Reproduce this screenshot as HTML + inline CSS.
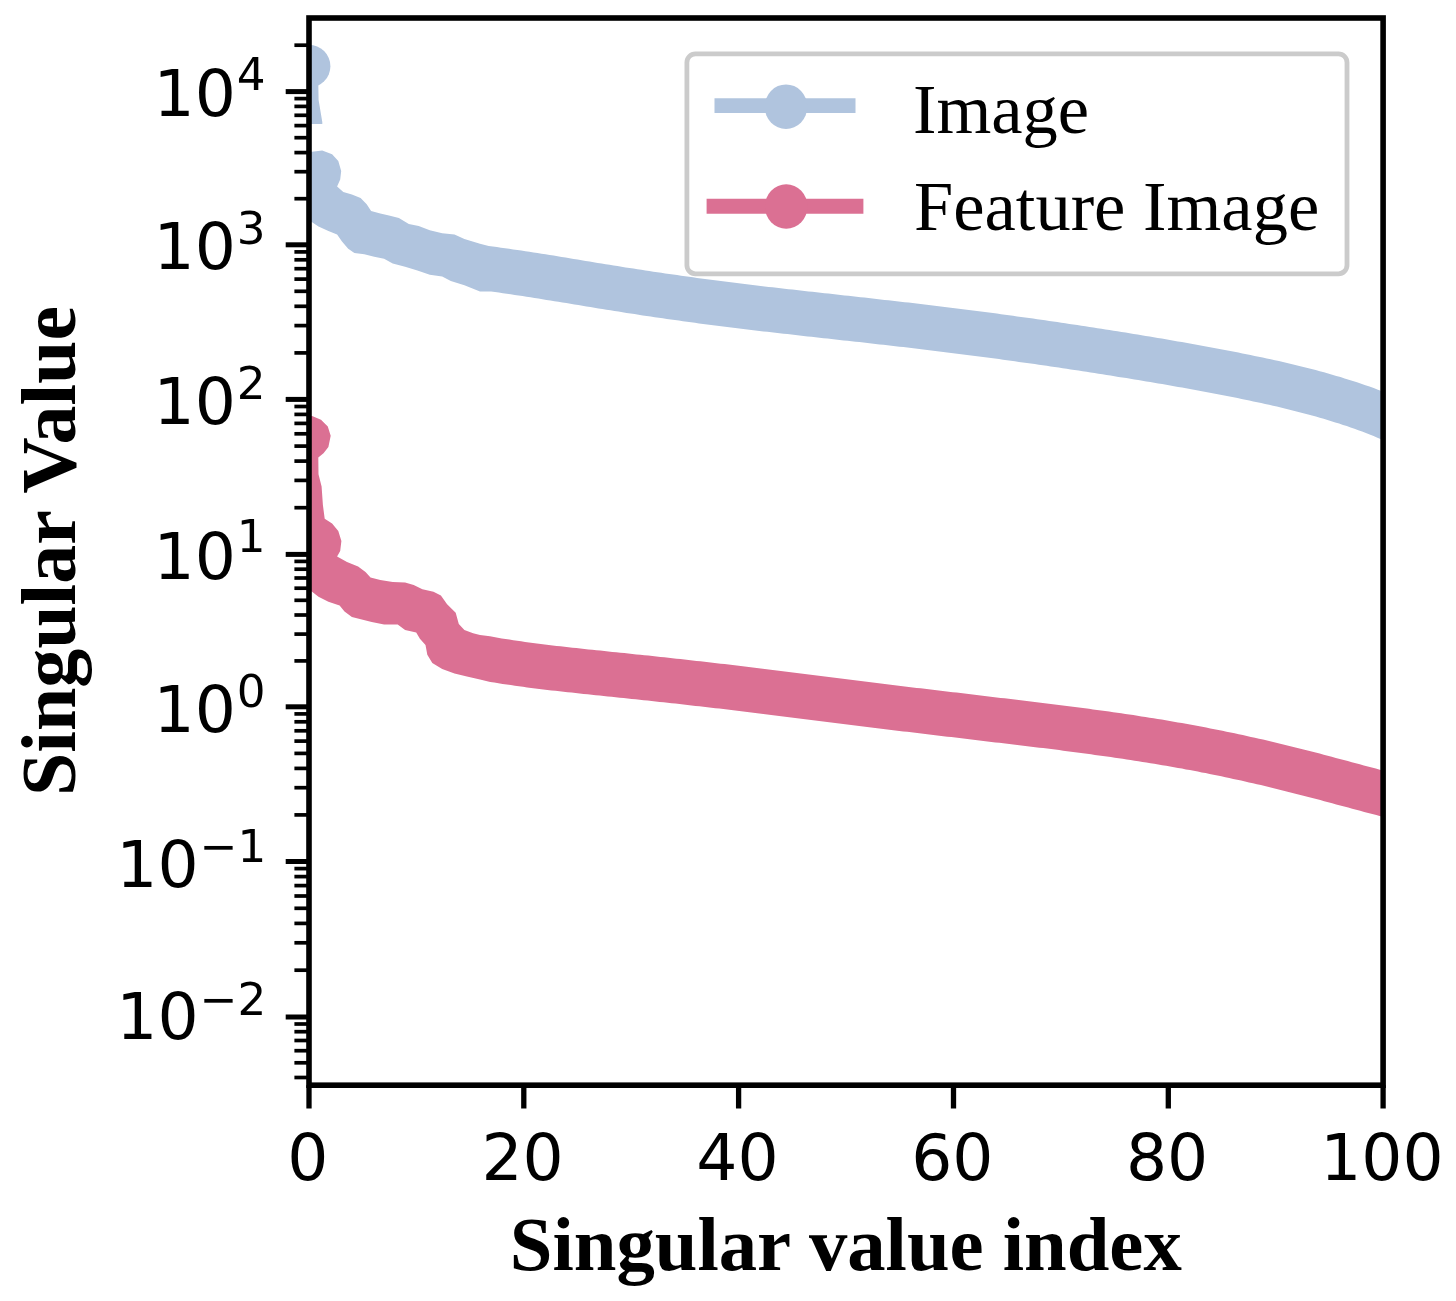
<!DOCTYPE html>
<html lang="en"><head><meta charset="utf-8"><title>Singular value spectrum</title>
<style>html,body{margin:0;padding:0;background:#fff;}body{width:1456px;height:1301px;overflow:hidden;}svg{display:block;filter:blur(0.7px);}</style>
</head><body>
<svg width="1456" height="1301" viewBox="0 0 1456 1301">
<rect width="1456" height="1301" fill="#fff"/>
<defs><clipPath id="ax"><rect x="309.0" y="18.0" width="1074.1" height="1067.2"/></clipPath></defs>
<g clip-path="url(#ax)">
<circle cx="309.0" cy="66.2" r="21.4" fill="#b0c4de"/>
<polygon points="309.0,80 318.3,84 318.6,100 322.3,122 322.3,124 309.0,124" fill="#b0c4de"/>
<polygon points="309.0,151.7 312.1,151.7 322.2,150.6 332.1,154.2 338.3,161.0 341.2,170.9 340.2,179.6 337.1,186.4 343.3,191.9 351.9,194.4 360.6,198.1 366.7,204.3 371.1,211.1 380.3,213.5 389.0,215.4 398.9,217.9 408.8,224.1 418.7,225.9 429.8,230.2 442.2,233.3 454.5,234.6 464.4,238.9 480.0,243.8 488.7,246.1 492.8,246.6 496.9,247.1 501.0,247.7 505.1,248.2 509.1,248.8 513.2,249.4 517.3,250.0 521.3,250.6 525.4,251.2 529.4,251.8 533.5,252.4 537.5,253.1 541.5,253.7 545.6,254.3 549.6,255.0 553.6,255.6 557.6,256.3 561.6,257.0 565.6,257.6 569.6,258.3 573.6,258.9 577.6,259.6 581.6,260.3 585.6,260.9 589.6,261.6 593.6,262.2 597.6,262.9 601.6,263.5 605.6,264.2 609.6,264.8 613.6,265.5 617.5,266.1 621.5,266.7 625.5,267.4 629.5,268.0 633.4,268.6 637.4,269.2 641.4,269.8 645.4,270.5 649.3,271.1 653.3,271.7 657.3,272.2 661.3,272.8 665.2,273.4 669.2,274.0 673.2,274.6 677.1,275.1 681.1,275.7 685.1,276.2 689.1,276.8 693.0,277.3 697.0,277.9 701.0,278.4 705.0,278.9 708.9,279.5 712.9,280.0 716.9,280.5 720.8,281.0 724.8,281.5 728.8,282.0 732.8,282.5 736.8,283.0 740.7,283.5 744.7,284.0 748.7,284.5 752.7,285.0 756.7,285.4 760.6,285.9 764.6,286.4 768.6,286.9 772.6,287.3 776.6,287.8 780.6,288.2 784.5,288.7 788.5,289.2 792.5,289.6 796.5,290.1 800.5,290.5 804.5,291.0 808.5,291.4 812.5,291.8 816.5,292.3 820.5,292.7 824.5,293.2 828.5,293.6 832.5,294.1 836.5,294.5 840.5,295.0 844.5,295.4 848.5,295.8 852.5,296.3 856.5,296.7 860.5,297.2 864.5,297.6 868.5,298.1 872.5,298.5 876.5,299.0 880.5,299.4 884.5,299.9 888.5,300.3 892.5,300.8 896.6,301.2 900.6,301.7 904.6,302.2 908.6,302.6 912.6,303.1 916.6,303.6 920.6,304.1 924.6,304.5 928.7,305.0 932.7,305.5 936.7,306.0 940.7,306.5 944.7,307.0 948.7,307.5 952.8,308.0 956.8,308.5 960.8,309.0 964.8,309.5 968.8,310.0 972.9,310.5 976.9,311.0 980.9,311.5 984.9,312.1 988.9,312.6 992.9,313.1 997.0,313.6 1001.0,314.2 1005.0,314.7 1009.0,315.3 1013.0,315.8 1017.1,316.4 1021.1,316.9 1025.1,317.5 1029.1,318.1 1033.1,318.6 1037.2,319.2 1041.2,319.8 1045.2,320.3 1049.2,320.9 1053.2,321.5 1057.3,322.1 1061.3,322.7 1065.3,323.3 1069.3,323.9 1073.3,324.5 1077.3,325.1 1081.4,325.7 1085.4,326.3 1089.4,326.9 1093.4,327.6 1097.4,328.2 1101.5,328.8 1105.5,329.4 1109.5,330.1 1113.5,330.7 1117.5,331.3 1121.5,332.0 1125.6,332.6 1129.6,333.3 1133.6,333.9 1137.6,334.6 1141.6,335.2 1145.7,335.9 1149.7,336.6 1153.7,337.3 1157.7,337.9 1161.8,338.6 1165.8,339.3 1169.8,340.0 1173.8,340.7 1177.8,341.4 1181.9,342.1 1185.9,342.8 1189.9,343.5 1194.0,344.2 1198.0,345.0 1202.0,345.7 1206.0,346.4 1210.1,347.2 1214.1,347.9 1218.1,348.7 1222.2,349.4 1226.2,350.2 1230.3,351.0 1234.3,351.8 1238.4,352.6 1242.4,353.4 1246.5,354.2 1250.5,355.0 1254.6,355.9 1258.6,356.7 1262.7,357.6 1266.7,358.4 1270.8,359.3 1274.9,360.2 1278.9,361.1 1283.0,362.1 1287.1,363.0 1291.2,364.0 1295.3,364.9 1299.3,365.9 1303.4,367.0 1307.5,368.0 1311.6,369.0 1315.7,370.1 1319.8,371.2 1324.0,372.3 1328.1,373.5 1332.2,374.7 1336.3,375.9 1340.5,377.1 1344.6,378.4 1348.7,379.7 1352.9,381.0 1357.0,382.3 1361.2,383.7 1365.4,385.2 1369.5,386.6 1373.7,388.1 1377.9,389.7 1382.1,391.3 1386.3,392.9 1390.4,394.6 1394.6,396.3 1398.9,398.1 1403.1,400.0 1407.3,401.8 1411.5,403.8 1415.7,405.8 1420.0,407.9 1424.2,410.0 1428.4,412.2 1432.6,414.4 1411.4,453.9 1407.6,451.8 1403.8,449.9 1400.0,448.0 1396.3,446.2 1392.5,444.4 1388.7,442.6 1384.9,440.9 1381.1,439.3 1377.4,437.7 1373.6,436.1 1369.7,434.6 1365.9,433.1 1362.1,431.6 1358.3,430.2 1354.5,428.8 1350.6,427.5 1346.8,426.1 1343.0,424.9 1339.1,423.6 1335.3,422.4 1331.4,421.2 1327.5,420.0 1323.7,418.8 1319.8,417.7 1315.9,416.6 1312.0,415.5 1308.2,414.5 1304.3,413.4 1300.4,412.4 1296.5,411.4 1292.6,410.4 1288.7,409.4 1284.7,408.5 1280.8,407.6 1276.9,406.6 1273.0,405.7 1269.1,404.8 1265.1,404.0 1261.2,403.1 1257.3,402.2 1253.3,401.4 1249.4,400.5 1245.4,399.7 1241.5,398.9 1237.5,398.1 1233.6,397.3 1229.6,396.5 1225.7,395.7 1221.7,395.0 1217.8,394.2 1213.8,393.4 1209.9,392.7 1205.9,392.0 1201.9,391.2 1198.0,390.5 1194.0,389.8 1190.0,389.0 1186.0,388.3 1182.1,387.6 1178.1,386.9 1174.1,386.2 1170.2,385.5 1166.2,384.8 1162.2,384.1 1158.2,383.5 1154.2,382.8 1150.3,382.1 1146.3,381.4 1142.3,380.8 1138.3,380.1 1134.4,379.5 1130.4,378.8 1126.4,378.1 1122.4,377.5 1118.4,376.9 1114.5,376.2 1110.5,375.6 1106.5,374.9 1102.5,374.3 1098.5,373.7 1094.5,373.1 1090.6,372.4 1086.6,371.8 1082.6,371.2 1078.6,370.6 1074.6,370.0 1070.7,369.4 1066.7,368.8 1062.7,368.2 1058.7,367.6 1054.7,367.0 1050.7,366.4 1046.8,365.8 1042.8,365.3 1038.8,364.7 1034.8,364.1 1030.8,363.5 1026.9,363.0 1022.9,362.4 1018.9,361.9 1014.9,361.3 1010.9,360.8 1007.0,360.2 1003.0,359.7 999.0,359.1 995.0,358.6 991.0,358.1 987.1,357.5 983.1,357.0 979.1,356.5 975.1,356.0 971.1,355.4 967.1,354.9 963.2,354.4 959.2,353.9 955.2,353.4 951.2,352.9 947.2,352.4 943.3,351.9 939.3,351.4 935.3,350.9 931.3,350.5 927.3,350.0 923.3,349.5 919.4,349.0 915.4,348.5 911.4,348.1 907.4,347.6 903.4,347.1 899.4,346.7 895.4,346.2 891.4,345.8 887.5,345.3 883.5,344.8 879.5,344.4 875.5,343.9 871.5,343.5 867.5,343.0 863.5,342.6 859.5,342.1 855.5,341.7 851.5,341.3 847.5,340.8 843.5,340.4 839.5,339.9 835.5,339.5 831.5,339.0 827.5,338.6 823.5,338.2 819.5,337.7 815.5,337.3 811.5,336.8 807.5,336.4 803.5,335.9 799.5,335.5 795.5,335.0 791.5,334.6 787.5,334.1 783.5,333.7 779.5,333.2 775.4,332.7 771.4,332.3 767.4,331.8 763.4,331.4 759.4,330.9 755.4,330.4 751.3,329.9 747.3,329.4 743.3,329.0 739.3,328.5 735.3,328.0 731.2,327.5 727.2,327.0 723.2,326.5 719.2,326.0 715.2,325.5 711.1,324.9 707.1,324.4 703.1,323.9 699.0,323.4 695.0,322.8 691.0,322.3 687.0,321.7 682.9,321.2 678.9,320.6 674.9,320.1 670.9,319.5 666.8,318.9 662.8,318.3 658.8,317.7 654.7,317.2 650.7,316.6 646.7,316.0 642.7,315.4 638.6,314.7 634.6,314.1 630.6,313.5 626.6,312.9 622.5,312.3 618.5,311.6 614.5,311.0 610.5,310.3 606.4,309.7 602.4,309.1 598.4,308.4 594.4,307.8 590.4,307.1 586.4,306.4 582.4,305.8 578.4,305.1 574.4,304.5 570.4,303.8 566.4,303.1 562.4,302.5 558.4,301.8 554.4,301.2 550.4,300.5 546.4,299.9 542.4,299.2 538.4,298.6 534.5,297.9 530.5,297.3 526.5,296.7 522.6,296.1 518.6,295.5 514.7,294.9 510.7,294.3 506.8,293.7 502.9,293.2 498.9,292.6 495.0,292.1 491.1,291.6 480.0,291.4 464.4,285.2 450.8,280.9 442.2,276.6 429.8,274.7 417.4,270.4 405.1,266.7 392.7,263.6 384.1,258.7 374.2,256.8 364.3,254.3 354.4,253.1 348.2,248.8 342.0,241.4 337.1,234.6 328.4,230.9 318.5,226.5 312.1,222.2 309.2,221.0" fill="#b0c4de"/>
<polygon points="309.0,416.1 312.1,416.1 321.0,419.8 327.8,426.6 330.7,435.8 328.4,447.0 323.5,453.2 318.3,457.5 318.5,474.2 321.6,486.5 322.9,505.1 324.7,518.7 332.1,523.6 338.3,531.0 341.4,540.9 340.2,551.0 337.1,556.6 347.0,562.1 358.1,566.5 365.5,572.0 370.5,577.6 380.3,580.1 392.7,581.9 405.1,582.5 413.7,585.0 422.4,589.3 433.5,591.8 440.9,595.5 447.1,604.2 455.7,612.8 458.8,623.9 464.4,630.1 473.1,633.2 480.0,635.1 490.0,636.3 493.9,637.0 497.8,637.7 501.7,638.4 505.5,639.0 509.4,639.6 513.3,640.2 517.2,640.8 521.1,641.3 525.1,641.9 529.0,642.4 532.9,643.0 536.8,643.5 540.8,644.0 544.7,644.5 548.7,644.9 552.6,645.4 556.6,645.9 560.5,646.3 564.5,646.8 568.5,647.2 572.4,647.7 576.4,648.1 580.4,648.5 584.4,648.9 588.4,649.4 592.3,649.8 596.3,650.2 600.3,650.6 604.3,651.0 608.3,651.5 612.3,651.9 616.3,652.3 620.3,652.7 624.3,653.1 628.3,653.5 632.3,653.9 636.3,654.4 640.3,654.8 644.3,655.2 648.4,655.6 652.4,656.1 656.4,656.5 660.4,656.9 664.4,657.3 668.4,657.8 672.4,658.2 676.4,658.7 680.5,659.1 684.5,659.5 688.5,660.0 692.5,660.4 696.5,660.9 700.5,661.3 704.5,661.8 708.6,662.3 712.6,662.7 716.6,663.2 720.6,663.7 724.6,664.1 728.6,664.6 732.6,665.1 736.7,665.6 740.7,666.0 744.7,666.5 748.7,667.0 752.7,667.5 756.7,668.0 760.7,668.5 764.7,669.0 768.7,669.5 772.7,669.9 776.8,670.4 780.8,670.9 784.8,671.4 788.8,671.9 792.8,672.4 796.8,672.9 800.8,673.4 804.8,673.9 808.8,674.4 812.8,674.9 816.8,675.4 820.8,676.0 824.8,676.5 828.8,677.0 832.8,677.5 836.8,678.0 840.8,678.5 844.8,679.0 848.8,679.5 852.8,680.0 856.8,680.5 860.8,681.0 864.8,681.5 868.8,682.0 872.8,682.5 876.8,683.0 880.8,683.5 884.7,683.9 888.7,684.4 892.7,684.9 896.7,685.4 900.7,685.9 904.7,686.4 908.7,686.9 912.7,687.4 916.7,687.9 920.7,688.3 924.7,688.8 928.7,689.3 932.7,689.8 936.7,690.3 940.7,690.7 944.7,691.2 948.7,691.7 952.7,692.2 956.6,692.6 960.6,693.1 964.6,693.6 968.6,694.1 972.6,694.5 976.6,695.0 980.6,695.5 984.6,696.0 988.6,696.4 992.6,696.9 996.6,697.4 1000.6,697.9 1004.6,698.3 1008.7,698.8 1012.7,699.3 1016.7,699.8 1020.7,700.3 1024.7,700.7 1028.7,701.2 1032.7,701.7 1036.7,702.2 1040.7,702.7 1044.7,703.2 1048.8,703.7 1052.8,704.2 1056.8,704.7 1060.8,705.2 1064.8,705.7 1068.8,706.2 1072.9,706.7 1076.9,707.3 1080.9,707.8 1084.9,708.3 1089.0,708.8 1093.0,709.4 1097.0,709.9 1101.1,710.5 1105.1,711.0 1109.1,711.6 1113.2,712.2 1117.2,712.8 1121.2,713.3 1125.3,713.9 1129.3,714.5 1133.3,715.1 1137.4,715.8 1141.4,716.4 1145.5,717.0 1149.5,717.7 1153.6,718.3 1157.6,719.0 1161.7,719.6 1165.7,720.3 1169.8,721.0 1173.8,721.7 1177.9,722.4 1181.9,723.1 1186.0,723.8 1190.0,724.6 1194.1,725.3 1198.1,726.1 1202.2,726.8 1206.2,727.6 1210.3,728.4 1214.4,729.2 1218.4,730.0 1222.5,730.8 1226.5,731.7 1230.6,732.5 1234.6,733.3 1238.7,734.2 1242.8,735.1 1246.8,736.0 1250.9,736.9 1254.9,737.8 1259.0,738.7 1263.0,739.6 1267.1,740.6 1271.1,741.5 1275.2,742.5 1279.2,743.5 1283.3,744.4 1287.3,745.4 1291.4,746.4 1295.4,747.4 1299.5,748.4 1303.5,749.5 1307.6,750.5 1311.6,751.5 1315.6,752.6 1319.7,753.6 1323.7,754.7 1327.7,755.7 1331.7,756.8 1335.8,757.9 1339.8,758.9 1343.8,760.0 1347.8,761.1 1351.8,762.2 1355.8,763.3 1359.8,764.3 1363.8,765.4 1367.8,766.5 1371.8,767.5 1375.8,768.6 1379.8,769.7 1383.7,770.7 1387.7,771.8 1391.6,772.8 1395.6,773.8 1399.5,774.8 1403.5,775.8 1407.4,776.8 1411.3,777.8 1415.3,778.8 1419.2,779.7 1423.1,780.6 1427.0,781.5 1417.0,825.2 1412.9,824.3 1408.8,823.3 1404.7,822.3 1400.7,821.3 1396.6,820.3 1392.5,819.3 1388.5,818.2 1384.4,817.2 1380.4,816.2 1376.3,815.1 1372.3,814.0 1368.2,813.0 1364.2,811.9 1360.2,810.8 1356.2,809.7 1352.2,808.7 1348.2,807.6 1344.2,806.5 1340.2,805.4 1336.2,804.4 1332.2,803.3 1328.2,802.2 1324.2,801.2 1320.3,800.1 1316.3,799.1 1312.3,798.0 1308.3,797.0 1304.4,795.9 1300.4,794.9 1296.4,793.9 1292.5,792.9 1288.5,791.9 1284.6,790.9 1280.6,789.9 1276.7,788.9 1272.7,788.0 1268.8,787.0 1264.8,786.1 1260.9,785.1 1256.9,784.2 1253.0,783.3 1249.0,782.4 1245.1,781.5 1241.1,780.6 1237.2,779.7 1233.2,778.9 1229.3,778.0 1225.4,777.2 1221.4,776.3 1217.5,775.5 1213.5,774.7 1209.6,773.9 1205.6,773.1 1201.7,772.4 1197.8,771.6 1193.8,770.8 1189.9,770.1 1185.9,769.4 1182.0,768.6 1178.0,767.9 1174.1,767.2 1170.1,766.5 1166.2,765.8 1162.2,765.2 1158.3,764.5 1154.3,763.8 1150.4,763.2 1146.4,762.5 1142.5,761.9 1138.5,761.3 1134.6,760.7 1130.6,760.0 1126.7,759.4 1122.7,758.8 1118.7,758.3 1114.8,757.7 1110.8,757.1 1106.8,756.5 1102.9,756.0 1098.9,755.4 1094.9,754.9 1091.0,754.3 1087.0,753.8 1083.0,753.3 1079.1,752.7 1075.1,752.2 1071.1,751.7 1067.1,751.2 1063.2,750.7 1059.2,750.1 1055.2,749.6 1051.2,749.1 1047.2,748.6 1043.2,748.1 1039.3,747.7 1035.3,747.2 1031.3,746.7 1027.3,746.2 1023.3,745.7 1019.3,745.2 1015.3,744.7 1011.3,744.3 1007.3,743.8 1003.3,743.3 999.4,742.8 995.4,742.4 991.4,741.9 987.4,741.4 983.4,740.9 979.4,740.5 975.4,740.0 971.4,739.5 967.4,739.0 963.4,738.6 959.4,738.1 955.4,737.6 951.4,737.1 947.3,736.7 943.3,736.2 939.3,735.7 935.3,735.2 931.3,734.7 927.3,734.3 923.3,733.8 919.3,733.3 915.3,732.8 911.3,732.3 907.3,731.8 903.3,731.4 899.3,730.9 895.3,730.4 891.3,729.9 887.3,729.4 883.3,728.9 879.3,728.4 875.2,727.9 871.2,727.4 867.2,726.9 863.2,726.4 859.2,725.9 855.2,725.4 851.2,724.9 847.2,724.4 843.2,723.9 839.2,723.4 835.2,722.9 831.2,722.4 827.2,721.9 823.2,721.4 819.2,720.9 815.2,720.4 811.2,719.9 807.2,719.4 803.2,718.9 799.2,718.4 795.2,717.9 791.2,717.4 787.2,716.9 783.2,716.4 779.2,715.9 775.2,715.4 771.2,714.9 767.3,714.4 763.3,713.9 759.3,713.4 755.3,712.9 751.3,712.5 747.3,712.0 743.3,711.5 739.3,711.0 735.3,710.5 731.3,710.0 727.4,709.6 723.4,709.1 719.4,708.6 715.4,708.2 711.4,707.7 707.4,707.2 703.4,706.8 699.5,706.3 695.5,705.9 691.5,705.4 687.5,705.0 683.5,704.5 679.5,704.1 675.5,703.6 671.6,703.2 667.6,702.8 663.6,702.3 659.6,701.9 655.6,701.5 651.6,701.0 647.6,700.6 643.6,700.2 639.7,699.8 635.7,699.3 631.7,698.9 627.7,698.5 623.7,698.1 619.7,697.7 615.7,697.3 611.7,696.8 607.7,696.4 603.7,696.0 599.7,695.6 595.7,695.2 591.7,694.8 587.7,694.3 583.6,693.9 579.6,693.5 575.6,693.1 571.6,692.6 567.6,692.2 563.5,691.7 559.5,691.3 555.5,690.8 551.4,690.4 547.4,689.9 543.3,689.4 539.3,688.9 535.2,688.4 531.2,687.9 527.1,687.4 523.0,686.8 518.9,686.3 514.9,685.7 510.8,685.1 506.7,684.5 502.6,683.9 498.5,683.2 494.3,682.6 490.2,681.9 480.0,679.6 466.9,676.5 454.5,673.4 442.2,669.1 432.3,662.9 427.3,654.8 425.5,645.0 419.9,638.8 416.2,632.6 405.1,630.1 397.7,624.6 384.1,624.6 371.7,622.1 361.8,619.6 351.9,617.1 344.5,611.6 339.6,605.4 328.4,601.7 318.5,596.7 312.1,591.8 309.2,590.0" fill="#db7093"/>
</g>
<rect x="686.9" y="53.9" width="660.1" height="219.9" rx="8.5" ry="8.5" fill="#fff" fill-opacity="0.8" stroke="#cbcbcb" stroke-width="4.8"/>
<line x1="714.5" y1="105.6" x2="855.5" y2="105.6" stroke="#b0c4de" stroke-width="14.8"/>
<ellipse cx="786" cy="106.7" rx="21.3" ry="22.3" fill="#b0c4de"/>
<line x1="706.6" y1="206.2" x2="863.4" y2="206.2" stroke="#db7093" stroke-width="15.0"/>
<ellipse cx="786.2" cy="206.5" rx="21.3" ry="22.3" fill="#db7093"/>
<text x="913" y="133" font-family="'Liberation Serif', serif" font-size="70.5" fill="#000">Image</text>
<text x="914" y="230.4" font-family="'Liberation Serif', serif" font-size="70.5" fill="#000">Feature Image</text>
<rect x="309.0" y="18.0" width="1074.1" height="1067.2" fill="none" stroke="#000" stroke-width="5.6"/>
<line x1="285.7" y1="1017.0" x2="309.0" y2="1017.0" stroke="#000" stroke-width="5.0"/>
<line x1="285.7" y1="861.5" x2="309.0" y2="861.5" stroke="#000" stroke-width="5.0"/>
<line x1="285.7" y1="706.8" x2="309.0" y2="706.8" stroke="#000" stroke-width="5.0"/>
<line x1="285.7" y1="554.4" x2="309.0" y2="554.4" stroke="#000" stroke-width="5.0"/>
<line x1="285.7" y1="399.4" x2="309.0" y2="399.4" stroke="#000" stroke-width="5.0"/>
<line x1="285.7" y1="244.8" x2="309.0" y2="244.8" stroke="#000" stroke-width="5.0"/>
<line x1="285.7" y1="91.6" x2="309.0" y2="91.6" stroke="#000" stroke-width="5.0"/>
<line x1="294.4" y1="1077.5" x2="309.0" y2="1077.5" stroke="#000" stroke-width="3.7"/>
<line x1="294.4" y1="1062.8" x2="309.0" y2="1062.8" stroke="#000" stroke-width="3.7"/>
<line x1="294.4" y1="1050.7" x2="309.0" y2="1050.7" stroke="#000" stroke-width="3.7"/>
<line x1="294.4" y1="1040.5" x2="309.0" y2="1040.5" stroke="#000" stroke-width="3.7"/>
<line x1="294.4" y1="1031.7" x2="309.0" y2="1031.7" stroke="#000" stroke-width="3.7"/>
<line x1="294.4" y1="1024.0" x2="309.0" y2="1024.0" stroke="#000" stroke-width="3.7"/>
<line x1="294.4" y1="970.2" x2="309.0" y2="970.2" stroke="#000" stroke-width="3.7"/>
<line x1="294.4" y1="942.8" x2="309.0" y2="942.8" stroke="#000" stroke-width="3.7"/>
<line x1="294.4" y1="923.4" x2="309.0" y2="923.4" stroke="#000" stroke-width="3.7"/>
<line x1="294.4" y1="908.3" x2="309.0" y2="908.3" stroke="#000" stroke-width="3.7"/>
<line x1="294.4" y1="896.0" x2="309.0" y2="896.0" stroke="#000" stroke-width="3.7"/>
<line x1="294.4" y1="885.6" x2="309.0" y2="885.6" stroke="#000" stroke-width="3.7"/>
<line x1="294.4" y1="876.6" x2="309.0" y2="876.6" stroke="#000" stroke-width="3.7"/>
<line x1="294.4" y1="868.6" x2="309.0" y2="868.6" stroke="#000" stroke-width="3.7"/>
<line x1="294.4" y1="814.9" x2="309.0" y2="814.9" stroke="#000" stroke-width="3.7"/>
<line x1="294.4" y1="787.7" x2="309.0" y2="787.7" stroke="#000" stroke-width="3.7"/>
<line x1="294.4" y1="768.4" x2="309.0" y2="768.4" stroke="#000" stroke-width="3.7"/>
<line x1="294.4" y1="753.4" x2="309.0" y2="753.4" stroke="#000" stroke-width="3.7"/>
<line x1="294.4" y1="741.1" x2="309.0" y2="741.1" stroke="#000" stroke-width="3.7"/>
<line x1="294.4" y1="730.8" x2="309.0" y2="730.8" stroke="#000" stroke-width="3.7"/>
<line x1="294.4" y1="721.8" x2="309.0" y2="721.8" stroke="#000" stroke-width="3.7"/>
<line x1="294.4" y1="713.9" x2="309.0" y2="713.9" stroke="#000" stroke-width="3.7"/>
<line x1="294.4" y1="660.9" x2="309.0" y2="660.9" stroke="#000" stroke-width="3.7"/>
<line x1="294.4" y1="634.1" x2="309.0" y2="634.1" stroke="#000" stroke-width="3.7"/>
<line x1="294.4" y1="615.0" x2="309.0" y2="615.0" stroke="#000" stroke-width="3.7"/>
<line x1="294.4" y1="600.3" x2="309.0" y2="600.3" stroke="#000" stroke-width="3.7"/>
<line x1="294.4" y1="588.2" x2="309.0" y2="588.2" stroke="#000" stroke-width="3.7"/>
<line x1="294.4" y1="578.0" x2="309.0" y2="578.0" stroke="#000" stroke-width="3.7"/>
<line x1="294.4" y1="569.2" x2="309.0" y2="569.2" stroke="#000" stroke-width="3.7"/>
<line x1="294.4" y1="561.4" x2="309.0" y2="561.4" stroke="#000" stroke-width="3.7"/>
<line x1="294.4" y1="507.7" x2="309.0" y2="507.7" stroke="#000" stroke-width="3.7"/>
<line x1="294.4" y1="480.4" x2="309.0" y2="480.4" stroke="#000" stroke-width="3.7"/>
<line x1="294.4" y1="461.1" x2="309.0" y2="461.1" stroke="#000" stroke-width="3.7"/>
<line x1="294.4" y1="446.1" x2="309.0" y2="446.1" stroke="#000" stroke-width="3.7"/>
<line x1="294.4" y1="433.8" x2="309.0" y2="433.8" stroke="#000" stroke-width="3.7"/>
<line x1="294.4" y1="423.4" x2="309.0" y2="423.4" stroke="#000" stroke-width="3.7"/>
<line x1="294.4" y1="414.4" x2="309.0" y2="414.4" stroke="#000" stroke-width="3.7"/>
<line x1="294.4" y1="406.5" x2="309.0" y2="406.5" stroke="#000" stroke-width="3.7"/>
<line x1="294.4" y1="352.9" x2="309.0" y2="352.9" stroke="#000" stroke-width="3.7"/>
<line x1="294.4" y1="325.6" x2="309.0" y2="325.6" stroke="#000" stroke-width="3.7"/>
<line x1="294.4" y1="306.3" x2="309.0" y2="306.3" stroke="#000" stroke-width="3.7"/>
<line x1="294.4" y1="291.3" x2="309.0" y2="291.3" stroke="#000" stroke-width="3.7"/>
<line x1="294.4" y1="279.1" x2="309.0" y2="279.1" stroke="#000" stroke-width="3.7"/>
<line x1="294.4" y1="268.7" x2="309.0" y2="268.7" stroke="#000" stroke-width="3.7"/>
<line x1="294.4" y1="259.8" x2="309.0" y2="259.8" stroke="#000" stroke-width="3.7"/>
<line x1="294.4" y1="251.9" x2="309.0" y2="251.9" stroke="#000" stroke-width="3.7"/>
<line x1="294.4" y1="198.7" x2="309.0" y2="198.7" stroke="#000" stroke-width="3.7"/>
<line x1="294.4" y1="171.7" x2="309.0" y2="171.7" stroke="#000" stroke-width="3.7"/>
<line x1="294.4" y1="152.6" x2="309.0" y2="152.6" stroke="#000" stroke-width="3.7"/>
<line x1="294.4" y1="137.7" x2="309.0" y2="137.7" stroke="#000" stroke-width="3.7"/>
<line x1="294.4" y1="125.6" x2="309.0" y2="125.6" stroke="#000" stroke-width="3.7"/>
<line x1="294.4" y1="115.3" x2="309.0" y2="115.3" stroke="#000" stroke-width="3.7"/>
<line x1="294.4" y1="106.4" x2="309.0" y2="106.4" stroke="#000" stroke-width="3.7"/>
<line x1="294.4" y1="98.6" x2="309.0" y2="98.6" stroke="#000" stroke-width="3.7"/>
<line x1="294.4" y1="45.2" x2="309.0" y2="45.2" stroke="#000" stroke-width="3.7"/>
<line x1="309.0" y1="1085.2" x2="309.0" y2="1108.5" stroke="#000" stroke-width="5.3"/>
<line x1="523.8" y1="1085.2" x2="523.8" y2="1108.5" stroke="#000" stroke-width="5.3"/>
<line x1="738.6" y1="1085.2" x2="738.6" y2="1108.5" stroke="#000" stroke-width="5.3"/>
<line x1="953.5" y1="1085.2" x2="953.5" y2="1108.5" stroke="#000" stroke-width="5.3"/>
<line x1="1168.3" y1="1085.2" x2="1168.3" y2="1108.5" stroke="#000" stroke-width="5.3"/>
<line x1="1383.1" y1="1085.2" x2="1383.1" y2="1108.5" stroke="#000" stroke-width="5.3"/>
<text font-family="'DejaVu Sans', sans-serif" font-size="45.29" text-anchor="end" x="266.3" y="1014.8">−2</text>
<text font-family="'DejaVu Sans', sans-serif" font-size="64.7" text-anchor="end" x="198.6" y="1039.3">10</text>
<text font-family="'DejaVu Sans', sans-serif" font-size="45.29" text-anchor="end" x="266.3" y="862.2">−1</text>
<text font-family="'DejaVu Sans', sans-serif" font-size="64.7" text-anchor="end" x="198.6" y="886.8">10</text>
<text font-family="'DejaVu Sans', sans-serif" font-size="45.29" text-anchor="end" x="265.6" y="706.7">0</text>
<text font-family="'DejaVu Sans', sans-serif" font-size="64.7" text-anchor="end" x="235.9" y="731.8">10</text>
<text font-family="'DejaVu Sans', sans-serif" font-size="45.29" text-anchor="end" x="265.6" y="552.2">1</text>
<text font-family="'DejaVu Sans', sans-serif" font-size="64.7" text-anchor="end" x="235.9" y="578.7">10</text>
<text font-family="'DejaVu Sans', sans-serif" font-size="45.29" text-anchor="end" x="265.6" y="398.9">2</text>
<text font-family="'DejaVu Sans', sans-serif" font-size="64.7" text-anchor="end" x="235.9" y="424.1">10</text>
<text font-family="'DejaVu Sans', sans-serif" font-size="45.29" text-anchor="end" x="265.6" y="244.2">3</text>
<text font-family="'DejaVu Sans', sans-serif" font-size="64.7" text-anchor="end" x="235.9" y="268.8">10</text>
<text font-family="'DejaVu Sans', sans-serif" font-size="45.29" text-anchor="end" x="265.6" y="89.5">4</text>
<text font-family="'DejaVu Sans', sans-serif" font-size="64.7" text-anchor="end" x="235.9" y="116.4">10</text>
<text font-family="'DejaVu Sans', sans-serif" font-size="64.7" text-anchor="middle" x="307.8" y="1180.2">0</text>
<text font-family="'DejaVu Sans', sans-serif" font-size="64.7" text-anchor="middle" x="522.6" y="1180.2">20</text>
<text font-family="'DejaVu Sans', sans-serif" font-size="64.7" text-anchor="middle" x="737.4" y="1180.2">40</text>
<text font-family="'DejaVu Sans', sans-serif" font-size="64.7" text-anchor="middle" x="952.3" y="1180.2">60</text>
<text font-family="'DejaVu Sans', sans-serif" font-size="64.7" text-anchor="middle" x="1167.1" y="1180.2">80</text>
<text font-family="'DejaVu Sans', sans-serif" font-size="64.7" text-anchor="middle" x="1381.9" y="1180.2">100</text>
<text font-family="'Liberation Serif', serif" font-weight="bold" font-size="76.7" text-anchor="middle" x="845.8" y="1270.3">Singular value index</text>
<text font-family="'Liberation Serif', serif" font-weight="bold" font-size="77.9" text-anchor="middle" transform="translate(75.2,551) rotate(-90)">Singular Value</text>
</svg>
</body></html>
